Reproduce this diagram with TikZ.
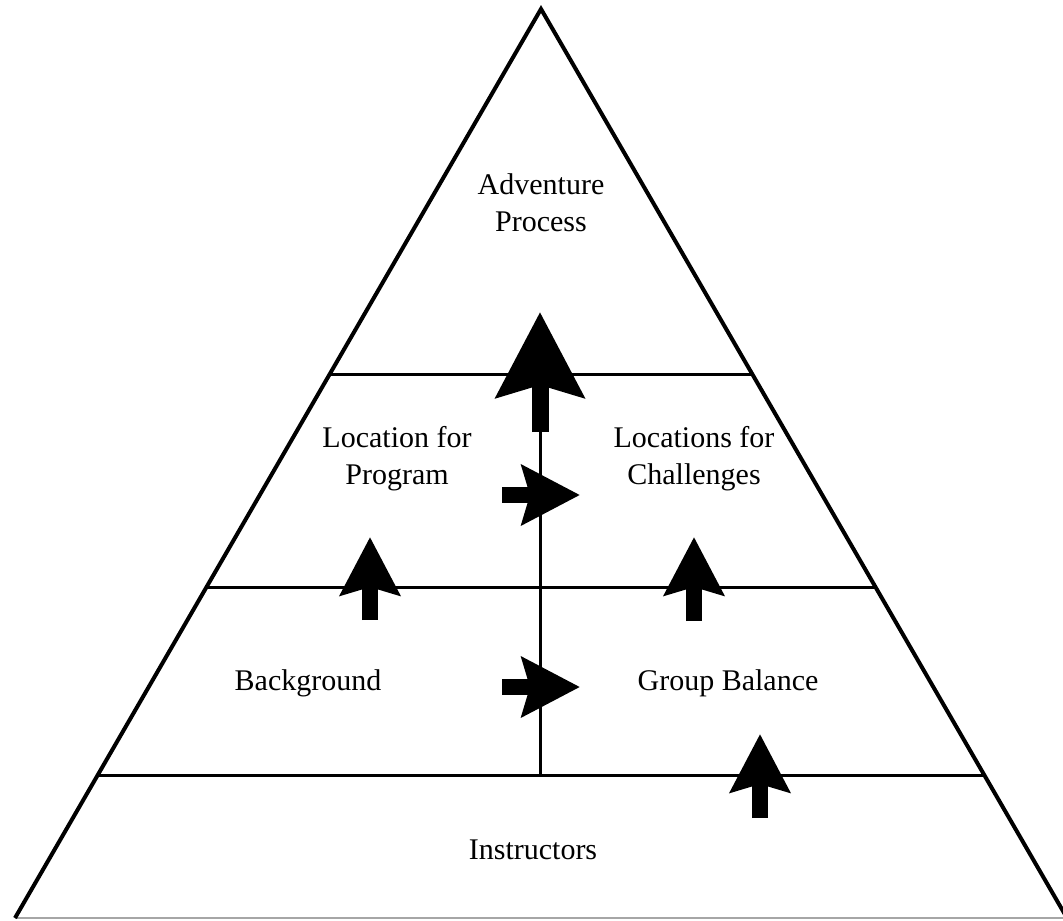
\documentclass[tikz,border=0pt]{standalone}
\usepackage{fontspec}
\setmainfont{Liberation Serif}
\usetikzlibrary{arrows.meta}
\tikzset{
    label/.style={align=center, font=\fontsize{15}{18.5}\selectfont, inner sep=0pt},
    side/.style={line width=2pt, line join=miter},
    level/.style={line width=1.5pt},
    bigup/.style={line width=8.5pt, -{Stealth[length=42.5pt, width=43.5pt, inset=6pt]}},
    blockarrow/.style={line width=7.8pt, -{Stealth[length=29pt, width=29.5pt, inset=4pt]}}
}
\begin{document}
\begin{tikzpicture}[x=0.5pt, y=-0.5pt]
                \useasboundingbox (0,0) rectangle (1063,920);
                % Corners
                \coordinate (apex) at (541, 9);
                \coordinate (bl) at (15, 918);
                \coordinate (br) at (1067, 918);
                \coordinate (l1) at (330, 374);
                \coordinate (r1) at (752, 374);
                \coordinate (l2) at (207, 587);
                \coordinate (r2) at (875, 587);
                \coordinate (l3) at (98, 775);
                \coordinate (r3) at (984, 775);
                \coordinate (mid) at (540, 400);
                \coordinate (midb) at (540, 775);

                % Nodes
                \node[label] at (541, 203) (adv) {Adventure\\Process};
                \node[label] at (397, 459) (locprog) {Location for\\Program};
                \node[label] at (694, 459) (locchal) {Locations for\\Challenges};
                \node[label] at (308, 683) (bg) {Background};
                \node[label] at (728, 683) (group) {Group Balance};
                \node[label] at (533, 850) (instr) {Instructors};

                % Frame
                \draw[line width=1pt, gray!70] (bl) -- (br);
                \draw[side] (bl) -- (apex) -- (br);
                \draw[level] (l1) -- (r1);
                \draw[level] (l2) -- (r2);
                \draw[level] (l3) -- (r3);
                \draw[level] (mid) -- (midb);

                % Arrows
                \coordinate (up0s) at (540, 432);
                \coordinate (up0t) at (540, 312);
                \draw[bigup] (up0s) -- (up0t);

                \coordinate (rt1s) at (502, 495);
                \coordinate (rt1t) at (580, 495);
                \draw[blockarrow] (rt1s) -- (rt1t);

                \coordinate (rt2s) at (502, 687);
                \coordinate (rt2t) at (580, 687);
                \draw[blockarrow] (rt2s) -- (rt2t);

                \coordinate (up1s) at (370, 620);
                \coordinate (up1t) at (370, 537);
                \draw[blockarrow] (up1s) -- (up1t);

                \coordinate (up2s) at (694, 621);
                \coordinate (up2t) at (694, 537);
                \draw[blockarrow] (up2s) -- (up2t);

                \coordinate (up3s) at (760, 818);
                \coordinate (up3t) at (760, 734);
                \draw[blockarrow] (up3s) -- (up3t);
            \end{tikzpicture}
\end{document}
